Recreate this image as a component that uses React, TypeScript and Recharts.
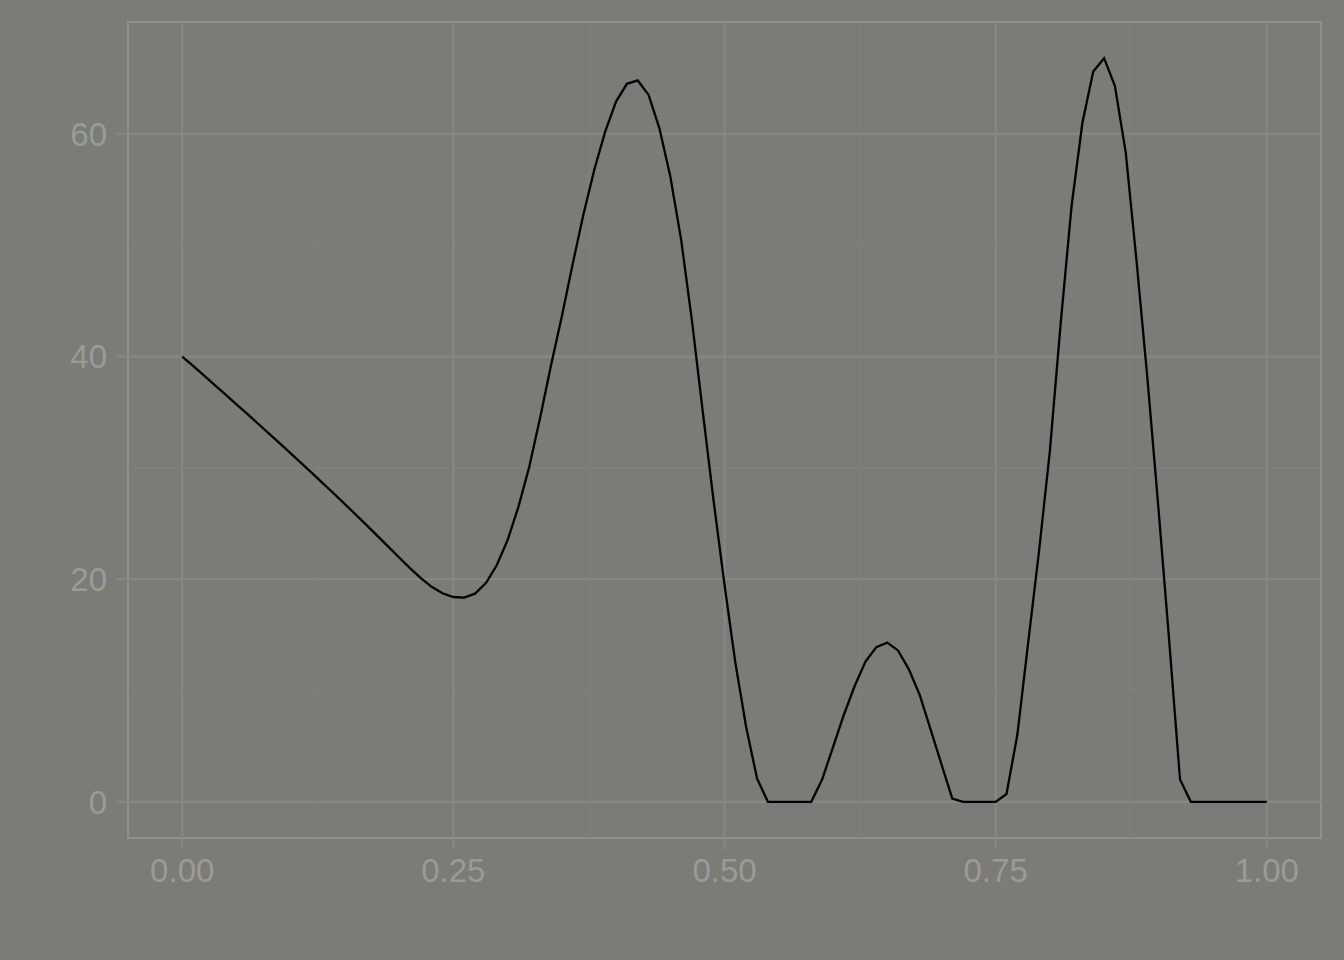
import React from "react";
import { LineChart, Line, XAxis, YAxis, ReferenceLine, ReferenceArea } from "recharts";

if (typeof document !== "undefined") {
  document.body.style.margin = "0";
}

const xValues = [
  0.0, 0.01, 0.02, 0.03, 0.04, 0.05, 0.06, 0.07, 0.08, 0.09,
  0.1, 0.11, 0.12, 0.13, 0.14, 0.15, 0.16, 0.17, 0.18, 0.19,
  0.2, 0.21, 0.22, 0.23, 0.24, 0.25, 0.26, 0.27, 0.28, 0.29,
  0.3, 0.31, 0.32, 0.33, 0.34, 0.35, 0.36, 0.37, 0.38, 0.39,
  0.4, 0.41, 0.42, 0.43, 0.44, 0.45, 0.46, 0.47, 0.48, 0.49,
  0.5, 0.51, 0.52, 0.53, 0.54, 0.55, 0.56, 0.57, 0.58, 0.59,
  0.6, 0.61, 0.62, 0.63, 0.64, 0.65, 0.66, 0.67, 0.68, 0.69,
  0.7, 0.71, 0.72, 0.73, 0.74, 0.75, 0.76, 0.77, 0.78, 0.79,
  0.8, 0.81, 0.82, 0.83, 0.84, 0.85, 0.86, 0.87, 0.88, 0.89,
  0.9, 0.91, 0.92, 0.93, 0.94, 0.95, 0.96, 0.97, 0.98, 0.99,
  1.0,
];

const yValues = [
  40.0, 39.15, 38.3, 37.44, 36.58, 35.71, 34.84, 33.96, 33.08, 32.19,
  31.3, 30.4, 29.5, 28.59, 27.67, 26.74, 25.8, 24.85, 23.89, 22.92,
  21.95, 20.99, 20.09, 19.31, 18.73, 18.4, 18.35, 18.7, 19.65, 21.25,
  23.5, 26.5, 30.1, 34.5, 39.2, 43.6, 48.3, 52.8, 56.8, 60.2,
  62.9, 64.5, 64.8, 63.5, 60.5, 56.2, 50.5, 43.2, 35.0, 27.0,
  19.5, 12.5, 6.7, 2.1, 0, 0, 0, 0, 0, 2.0,
  4.9, 7.8, 10.4, 12.6, 13.9, 14.3, 13.6, 11.9, 9.6, 6.5,
  3.4, 0.3, 0, 0, 0, 0, 0.7, 6.0, 14.3, 22.5,
  31.5, 43.0, 53.5, 61.0, 65.6, 66.8, 64.3, 58.3, 48.5, 38.0,
  26.5, 14.5, 2.0, 0, 0, 0, 0, 0, 0, 0,
  0,
];

const xTicks = [0, 0.25, 0.5, 0.75, 1];
const xMinor = [0.125, 0.375, 0.625, 0.875];
const yTicks = [0, 20, 40, 60];
const yMinor = [10, 30, 50];

const X_DOMAIN: [number, number] = [-0.05, 1.05];
const Y_DOMAIN: [number, number] = [-3.25, 70.05];

const data = xValues.map((x, i) => ({ x, y: yValues[i] }));

const BG = "#7b7c77";
const GRID_MAJOR = "#878883";
const GRID_MINOR = "#80817c";
const BORDER = "#90918c";
const TEXT = "#9a9b96";

export default function App() {
  const tickStyle = { fill: TEXT, fontSize: 33, fontFamily: "'Liberation Sans', Arial, sans-serif" };
  return (
    <div style={{ width: 1344, height: 960, background: BG }}>
      <LineChart
        width={1344}
        height={960}
        data={data}
        margin={{ top: 22, right: 23, bottom: 0, left: 0 }}
      >
        <XAxis
          dataKey="x"
          type="number"
          domain={X_DOMAIN}
          allowDataOverflow
          ticks={xTicks}
          tickFormatter={(v: number) => v.toFixed(2)}
          axisLine={false}
          tickLine={{ stroke: GRID_MAJOR, strokeWidth: 2 }}
          tickSize={11}
          tickMargin={10}
          height={122}
          tick={tickStyle}
          interval={0}
        />
        <YAxis
          dataKey="y"
          type="number"
          domain={Y_DOMAIN}
          allowDataOverflow
          ticks={yTicks}
          axisLine={false}
          tickLine={{ stroke: GRID_MAJOR, strokeWidth: 2 }}
          tickSize={11}
          tickMargin={10}
          width={128}
          tick={tickStyle}
          interval={0}
        />
        {yMinor.map((v) => (
          <ReferenceLine key={"ym" + v} y={v} stroke={GRID_MINOR} strokeWidth={1.1} />
        ))}
        {xMinor.map((v) => (
          <ReferenceLine key={"xm" + v} x={v} stroke={GRID_MINOR} strokeWidth={1.1} />
        ))}
        {yTicks.map((v) => (
          <ReferenceLine key={"yM" + v} y={v} stroke={GRID_MAJOR} strokeWidth={2.2} />
        ))}
        {xTicks.map((v) => (
          <ReferenceLine key={"xM" + v} x={v} stroke={GRID_MAJOR} strokeWidth={2.2} />
        ))}
        <ReferenceArea
          x1={X_DOMAIN[0]}
          x2={X_DOMAIN[1]}
          y1={Y_DOMAIN[0]}
          y2={Y_DOMAIN[1]}
          fill="none"
          fillOpacity={0}
          stroke={BORDER}
          strokeWidth={2}
        />
        <Line
          type="linear"
          dataKey="y"
          stroke="#000000"
          strokeWidth={2.3}
          dot={false}
          isAnimationActive={false}
        />
      </LineChart>
    </div>
  );
}
